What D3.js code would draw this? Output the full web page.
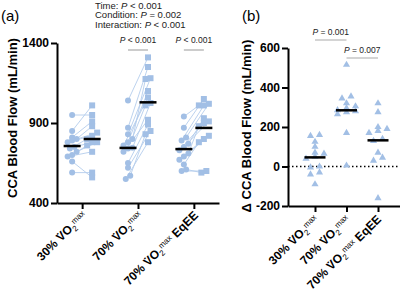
<!DOCTYPE html>
<html>
<head>
<meta charset="utf-8">
<script src="https://cdn.jsdelivr.net/npm/d3@7"></script>
<style>
  body { margin: 0; background: #fff; }
  svg { display: block; font-family: "Liberation Sans", Arial, sans-serif; }
  .axis path, .axis line { stroke: #000; stroke-width: 2; }
  .axis text { font-size: 12px; font-weight: bold; fill: #000; font-family: "Liberation Sans", Arial, sans-serif; }
</style>
</head>
<body>
<div id="chart"></div>
<script>
// conditions and tick values
var conditions = ["30%", "70%", "70% EqEE"];
var labelPrefix = ["30% ", "70% ", "70% "];
var labelSuffix = ["", "", " EqEE"];
var yTicksA = [400, 900, 1400];
var yTicksB = [-200, 0, 200, 400, 600];

// panel (a): blood flow before / after, one pair per subject
var pre30 = [950, 850, 810, 800, 790, 780, 750, 740, 720, 700, 690, 660, 590];
var post30 = [950, 1010, 910, 880, 840, 820, 780, 800, 780, 760, 720, 560, 590];
var pre70 = [1040, 870, 830, 800, 780, 760, 745, 740, 720, 650, 620, 570, 550];
var post70 = [1310, 1250, 1180, 1175, 1100, 1060, 1025, 1010, 920, 890, 850, 830, 780];
var preEq = [940, 870, 810, 790, 770, 750, 730, 710, 690, 670, 640, 610, 600];
var postEq = [1010, 1050, 1020, 1010, 930, 910, 900, 880, 820, 800, 780, 590, 600];

// panel (b): change in blood flow
var delta30 = [160, 155, 125, 100, 70, 65, 50, 40, 0, -5, -30, -40, -90];
var delta70 = [515, 355, 345, 320, 305, 295, 285, 280, 275, 265, 170, 5];
var deltaEq = [320, 275, 200, 190, 180, 170, 140, 130, 70, 45, 30, -160];

var statsLines = [["Time: ", "P", " < 0.001"], ["Condition: ", "P", " = 0.002"], ["Interaction: ", "P", " < 0.001"]];

var pointColor = "#a2bfe5";
var lineColor = "#b4cdec";

var svg = d3.select("#chart").append("svg")
  .attr("width", 400)
  .attr("height", 302);

// spread overlapping points sideways
function swarm(values, y, gap, spread) {
  var idx = values.map(function (d, i) { return i; })
    .sort(function (a, b) { return values[a] - values[b]; });
  var offs = values.map(function () { return 0; });
  var cluster = [idx[0]];
  function flush() {
    cluster.forEach(function (j, k) { offs[j] = (k - (cluster.length - 1) / 2) * spread; });
  }
  for (var i = 1; i < idx.length; i++) {
    var last = cluster[cluster.length - 1];
    if (Math.abs(y(values[idx[i]]) - y(values[last])) < gap && cluster.length < 3) {
      cluster.push(idx[i]);
    } else {
      flush();
      cluster = [idx[i]];
    }
  }
  flush();
  return offs;
}

function xLabels(g, x, axisY, dx, dy) {
  conditions.forEach(function (c, i) {
    var t = g.append("text")
      .attr("transform", "translate(" + (x(c) + dx) + "," + (axisY + dy) + ") rotate(-45)")
      .attr("text-anchor", "end")
      .style("font-size", "12px")
      .style("font-weight", "bold");
    t.append("tspan").text(labelPrefix[i] + "V");
    t.append("tspan").attr("dx", -6.5).text("\u02D9");
    t.append("tspan").attr("dx", 2.5).text("O");
    t.append("tspan").attr("dy", 3).style("font-size", "8px").style("font-weight", "normal").text("2");
    t.append("tspan").attr("dy", -6).style("font-size", "8px").style("font-weight", "normal").text("max");
    if (labelSuffix[i]) t.append("tspan").attr("dy", 3).text(labelSuffix[i]);
  });
}

function pText(g, x, y, parts, size, anchor) {
  var t = g.append("text")
    .attr("x", x).attr("y", y)
    .attr("text-anchor", anchor)
    .style("font-size", size + "px")
    .style("fill", "#222");
  parts.forEach(function (p) {
    t.append("tspan").style("font-style", p === "P" ? "italic" : "normal").text(p);
  });
}

var plain = function (d) { return String(d); };

// ---------- panel (a) ----------
var ya = d3.scaleLinear().domain([400, 1400]).range([203, 43]);
var xa = d3.scalePoint().domain(conditions).range([57, 219]).padding(0.45);
var side = d3.scalePoint().domain(["pre", "post"]).range([-10, 10]);

var ga = svg.append("g");
var pairs = [[pre30, post30], [pre70, post70], [preEq, postEq]];

pairs.forEach(function (pp, i) {
  var c = conditions[i];
  var offPre = swarm(pp[0], ya, 4, 4.5);
  var offPost = swarm(pp[1], ya, 4, 5);
  var xPre = xa(c) + side("pre"), xPost = xa(c) + side("post");

  ga.selectAll(".pair" + i)
    .data(pp[0])
    .enter()
    .append("line")
    .attr("x1", function (d, j) { return xPre + offPre[j]; })
    .attr("y1", function (d) { return ya(d); })
    .attr("x2", function (d, j) { return xPost + offPost[j]; })
    .attr("y2", function (d, j) { return ya(pp[1][j]); })
    .style("stroke", lineColor)
    .style("stroke-width", 0.9);

  ga.selectAll(".pre" + i)
    .data(pp[0])
    .enter()
    .append("circle")
    .attr("cx", function (d, j) { return xPre + offPre[j]; })
    .attr("cy", function (d) { return ya(d); })
    .attr("r", 3)
    .style("fill", pointColor);

  ga.selectAll(".post" + i)
    .data(pp[1])
    .enter()
    .append("rect")
    .attr("x", function (d, j) { return xPost + offPost[j] - 3; })
    .attr("y", function (d) { return ya(d) - 3; })
    .attr("width", 6)
    .attr("height", 6)
    .style("fill", pointColor);

  // mean bars
  [[pp[0], xPre], [pp[1], xPost]].forEach(function (m) {
    ga.append("line")
      .attr("x1", m[1] - 8.5).attr("x2", m[1] + 8.5)
      .attr("y1", ya(d3.mean(m[0]))).attr("y2", ya(d3.mean(m[0])))
      .style("stroke", "#000")
      .style("stroke-width", 2.5);
  });
});

ga.append("g").attr("class", "axis")
  .attr("transform", "translate(57,0)")
  .call(d3.axisLeft(ya).tickValues(yTicksA).tickFormat(plain).tickSize(6).tickSizeOuter(0).tickPadding(2));
ga.append("g").attr("class", "axis")
  .attr("transform", "translate(0,203)")
  .call(d3.axisBottom(xa).tickSize(6).tickSizeOuter(0).tickFormat(""));
xLabels(ga, xa, 203, 5, 13);

ga.append("text")
  .attr("transform", "translate(17,118) rotate(-90)")
  .attr("text-anchor", "middle")
  .style("font-size", "13px")
  .style("font-weight", "bold")
  .text("CCA Blood Flow (mL/min)");

ga.append("text").attr("x", 1).attr("y", 21).style("font-size", "15px").text("(a)");

statsLines.forEach(function (s, i) {
  pText(ga, 95, 8.5 + i * 9.6, s, 9.5, "start");
});

[1, 2].forEach(function (i) {
  var c = conditions[i];
  pText(ga, xa(c), 43, ["P", " < 0.001"], 8.5, "middle");
  ga.append("line")
    .attr("x1", xa(c) + side("pre")).attr("x2", xa(c) + side("post"))
    .attr("y1", 50).attr("y2", 50)
    .style("stroke", "#aaa").style("stroke-width", 1.2);
});

// ---------- panel (b) ----------
var yb = d3.scaleLinear().domain([-200, 600]).range([206, 48]);
var xb = d3.scalePoint().domain(conditions).range([288, 405]).padding(0.857);
var gb = svg.append("g");
var deltas = [delta30, delta70, deltaEq];

gb.append("line")
  .attr("x1", 288).attr("x2", 400)
  .attr("y1", yb(0)).attr("y2", yb(0))
  .style("stroke", "#000")
  .style("stroke-width", 1.5)
  .style("stroke-dasharray", "1.5,2.5");

var tri = d3.symbol().type(d3.symbolTriangle).size(22);
deltas.forEach(function (vals, i) {
  var c = conditions[i];
  var offs = swarm(vals, yb, 4, 9);
  gb.selectAll(".tri" + i)
    .data(vals)
    .enter()
    .append("path")
    .attr("d", tri)
    .attr("transform", function (d, j) {
      return "translate(" + (xb(c) + offs[j]) + "," + yb(d) + ")";
    })
    .style("fill", pointColor);
  var avg = d3.mean(vals);
  gb.append("line")
    .attr("x1", xb(c) - 10.5).attr("x2", xb(c) + 10.5)
    .attr("y1", yb(avg)).attr("y2", yb(avg))
    .style("stroke", "#000")
    .style("stroke-width", 2.5);
});

gb.append("g").attr("class", "axis")
  .attr("transform", "translate(288,0)")
  .call(d3.axisLeft(yb).tickValues(yTicksB).tickFormat(plain).tickSize(6).tickSizeOuter(0).tickPadding(2));
gb.append("g").attr("class", "axis")
  .attr("transform", "translate(0,206)")
  .call(d3.axisBottom(xb).tickSize(6).tickSizeOuter(0).tickFormat(""));
xLabels(gb, xb, 206, 4, 14);

gb.append("text")
  .attr("transform", "translate(251,126) rotate(-90)")
  .attr("text-anchor", "middle")
  .style("font-size", "13px")
  .style("font-weight", "bold")
  .text("\u0394 CCA Blood Flow (mL/min)");

gb.append("text").attr("x", 242).attr("y", 21).style("font-size", "15px").text("(b)");

var compB = [[0, 1, "P", " = 0.001", 32], [1, 2, "P", " = 0.007", 50]];
compB.forEach(function (d) {
  var x1 = xb(conditions[d[0]]), x2 = xb(conditions[d[1]]);
  pText(gb, (x1 + x2) / 2, d[4] + 3, [d[2], d[3]], 8.5, "middle");
  gb.append("line")
    .attr("x1", x1).attr("x2", x2)
    .attr("y1", d[4] + 8).attr("y2", d[4] + 8)
    .style("stroke", "#aaa").style("stroke-width", 1.2);
});
</script>
</body>
</html>
